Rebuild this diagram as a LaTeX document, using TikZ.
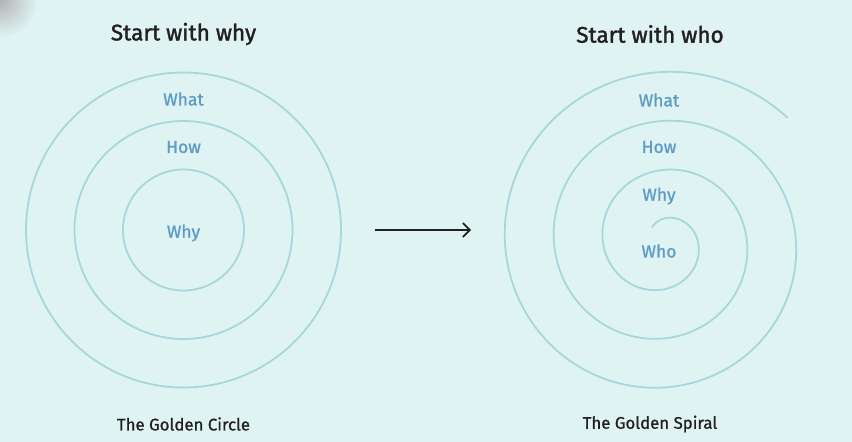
\documentclass[tikz,border=0pt]{standalone}
\usepackage{fontspec}
\setmainfont{Fira Sans}
\usetikzlibrary{arrows.meta}
\definecolor{bg}{HTML}{E0F3F3}
\definecolor{ring}{HTML}{A6D8DB}
\definecolor{lbl}{HTML}{5E9CC6}
\definecolor{ink}{HTML}{231F20}
\begin{document}
\begin{tikzpicture}[x=1pt,y=-1pt,
  ringline/.style={draw=ring,line width=1.8pt},
  ringlabel/.style={text=lbl,font=\fontsize{17.5}{20}\selectfont\addfontfeatures{FakeBold=1.2}},
  title/.style={text=ink,font=\fontsize{22.5}{26}\selectfont\addfontfeatures{FakeBold=1.5}},
  caption/.style={text=ink,font=\fontsize{16.8}{20}\selectfont\addfontfeatures{FakeBold=1.0}}]
\useasboundingbox (0,0) rectangle (852,442);
\fill[bg] (0,0) rectangle (852,442);
\begin{scope}
  \clip (0,0) rectangle (60,50);
  \shade[inner color=black!30, outer color=bg] (0,0) circle (38pt);
\end{scope}
% left circles
\coordinate (lc) at (183.5,230);
\draw[ringline] (lc) circle (157.5pt);
\draw[ringline] (lc) circle (109pt);
\draw[ringline] (lc) circle (60.5pt);
\node[ringlabel] (lwhat) at (183.5,99) {What};
\node[ringlabel] (lhow) at (183.5,147) {How};
\node[ringlabel] (lwhy) at (183.5,233) {Why};
\node[title] (ltitle) at (183.5,34) {Start with why};
\node[caption] (lcap) at (183.5,424) {The Golden Circle};
% arrow
\coordinate (as) at (375,230);
\coordinate (ae) at (471,230);
\draw[ink,line width=1.6pt,-{Straight Barb[length=7pt,width=14pt,line width=1.6pt]}] (as) -- (ae);
% spiral
\draw[ringline,line cap=round] plot[domain=-125:1035,samples=400,smooth]
  ({662.7+(35.3+0.1361*\x)*cos(\x)},{242+(35.3+0.1361*\x)*sin(\x)});
\node[ringlabel] (rwhat) at (659,100) {What};
\node[ringlabel] (rhow) at (659,147) {How};
\node[ringlabel] (rwhy) at (659,196) {Why};
\node[ringlabel] (rwho) at (659,251) {Who};
\node[title] (rtitle) at (650,34) {Start with who};
\node[caption] (rcap) at (650,424) {The Golden Spiral};
\end{tikzpicture}
\end{document}
